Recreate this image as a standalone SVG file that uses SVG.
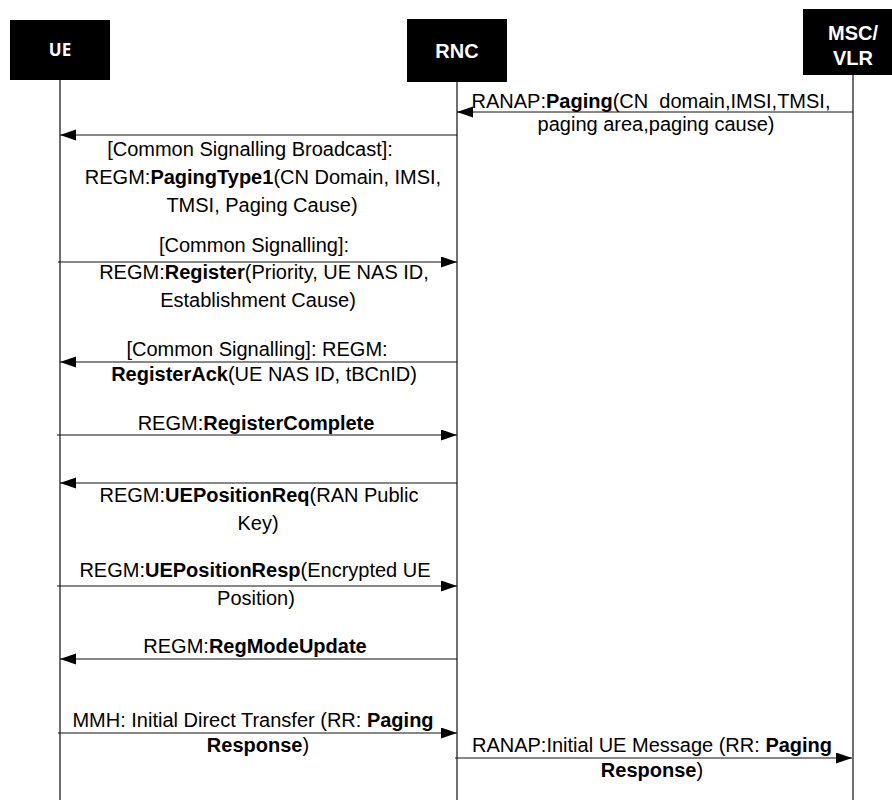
<svg xmlns="http://www.w3.org/2000/svg" width="892" height="800" viewBox="0 0 892 800">
<style>
.box{fill:#000}
.hdr{fill:#fff;font-family:"Liberation Sans",Arial,sans-serif;font-weight:bold;font-size:20px;text-anchor:middle}
.hdrue{fill:#fff;font-family:"Open Sans","Liberation Sans",sans-serif;font-weight:bold;font-size:17px;text-anchor:middle}
.life{stroke:#222;stroke-width:1.3;fill:none}
.msg{stroke:#111;stroke-width:1;fill:none;marker-end:url(#ah)}
.lbl{font-family:"Liberation Sans",Arial,sans-serif;font-size:20px;fill:#000;text-anchor:middle}
.b{font-weight:bold}
</style>
<defs>
<marker id="ah" markerUnits="userSpaceOnUse" markerWidth="17" markerHeight="12" refX="16" refY="5.5" orient="auto">
<path d="M0,0 L16,5.5 L0,11 z" fill="#000"/>
</marker>
</defs>
<rect width="892" height="800" fill="#fff"/>
<g id="UE">
<rect class="box" x="10" y="20" width="100" height="60"/>
<text class="hdrue" x="60" y="56">UE</text>
<line class="life" x1="60" y1="80" x2="60" y2="800"/>
</g>
<g id="RNC">
<rect class="box" x="407" y="19" width="100" height="63"/>
<text class="hdr" x="457" y="58">RNC</text>
<line class="life" x1="457" y1="82" x2="457" y2="800"/>
</g>
<g id="MSC_VLR">
<rect class="box" x="803" y="9" width="89" height="66"/>
<text class="hdr" x="853" y="40">MSC/</text>
<text class="hdr" x="853" y="65">VLR</text>
<line class="life" x1="853" y1="75" x2="853" y2="800"/>
</g>
<g id="connectors">
<line class="msg" x1="853" y1="112" x2="457" y2="112"/>
<line class="msg" x1="457" y1="135" x2="60" y2="135"/>
<line class="msg" x1="58" y1="262" x2="457" y2="262"/>
<line class="msg" x1="457" y1="362" x2="60" y2="362"/>
<line class="msg" x1="57" y1="435" x2="457" y2="435"/>
<line class="msg" x1="457" y1="483" x2="60" y2="483"/>
<line class="msg" x1="57" y1="586" x2="457" y2="586"/>
<line class="msg" x1="457" y1="659" x2="60" y2="659"/>
<line class="msg" x1="58" y1="733" x2="457" y2="733"/>
<line class="msg" x1="455" y1="758" x2="852" y2="758"/>
</g>
<g id="labels">
<text class="lbl" x="651" y="108">RANAP:<tspan class="b">Paging</tspan>(CN&#160; domain,IMSI,TMSI,</text>
<text class="lbl" x="656" y="131">paging area,paging cause)</text>
<text class="lbl" x="250" y="156">[Common Signalling Broadcast]:</text>
<text class="lbl" x="263" y="184">REGM:<tspan class="b">PagingType1</tspan>(CN Domain, IMSI,</text>
<text class="lbl" x="262" y="212">TMSI, Paging Cause)</text>
<text class="lbl" x="254" y="252">[Common Signalling]:</text>
<text class="lbl" x="264" y="279">REGM:<tspan class="b">Register</tspan>(Priority, UE NAS ID,</text>
<text class="lbl" x="258" y="307">Establishment Cause)</text>
<text class="lbl" x="257" y="356">[Common Signalling]: REGM:</text>
<text class="lbl" x="264" y="381"><tspan class="b">RegisterAck</tspan>(UE NAS ID, tBCnID)</text>
<text class="lbl" x="256" y="430">REGM:<tspan class="b">RegisterComplete</tspan></text>
<text class="lbl" x="259" y="502">REGM:<tspan class="b">UEPositionReq</tspan>(RAN Public</text>
<text class="lbl" x="258" y="530">Key)</text>
<text class="lbl" x="255" y="577">REGM:<tspan class="b">UEPositionResp</tspan>(Encrypted UE</text>
<text class="lbl" x="256" y="605">Position)</text>
<text class="lbl" x="255" y="653">REGM:<tspan class="b">RegModeUpdate</tspan></text>
<text class="lbl" x="253" y="727">MMH: Initial Direct Transfer (RR: <tspan class="b">Paging</tspan></text>
<text class="lbl" x="258" y="752"><tspan class="b">Response</tspan>)</text>
<text class="lbl" x="652" y="752">RANAP:Initial UE Message (RR: <tspan class="b">Paging</tspan></text>
<text class="lbl" x="652" y="777"><tspan class="b">Response</tspan>)</text>
</g>
</svg>
